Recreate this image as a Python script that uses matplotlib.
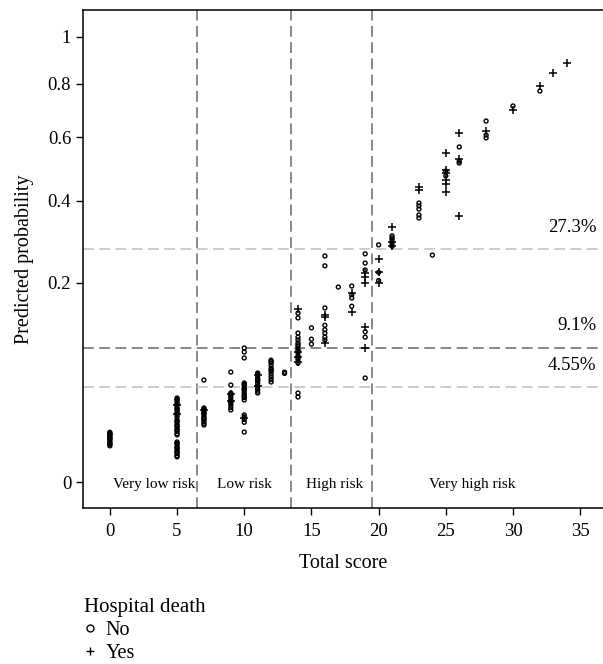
import numpy as np
import matplotlib
matplotlib.use('Agg')
import matplotlib.pyplot as plt
from matplotlib.lines import Line2D

plt.rcParams['font.family'] = ['Liberation Serif', 'DejaVu Serif']

# hospital death = No
no_score = [0]*13 + [5]*35 + [7]*14 + [9]*12 + [10]*19 + [11]*11 + [12]*11 + [13]*2 \
    + [14]*17 + [15]*3 + [16]*8 + [17] + [18]*4 + [19]*6 + [20]*3 + [21]*5 + [23]*5 \
    + [24] + [25]*2 + [26]*3 + [28]*3 + [30] + [32]
no_prob = [0.0125, 0.0120, 0.0116, 0.0112, 0.0108, 0.0100, 0.0096, 0.0093, 0.0086, 0.0079, 0.0075, 0.0072, 0.0066,
           0.0356, 0.0345, 0.0335, 0.0315, 0.0305, 0.0296, 0.0277, 0.0268, 0.0260, 0.0243, 0.0235, 0.0228, 0.0213,
           0.0194, 0.0187, 0.0180, 0.0166, 0.0160, 0.0153, 0.0141, 0.0135, 0.0129, 0.0118, 0.0112,
           0.0081, 0.0076, 0.0072, 0.0063, 0.0059, 0.0055, 0.0048, 0.0045, 0.0041, 0.0035, 0.0032,
           0.0277, 0.0270, 0.0262, 0.0248, 0.0241, 0.0234, 0.0221, 0.0208, 0.0202, 0.0196, 0.0185, 0.0174, 0.0164, 0.0525,
           0.061, 0.0475, 0.040, 0.0389, 0.0378, 0.0357, 0.0337, 0.0327, 0.0317, 0.0298, 0.0280, 0.0262,
           0.0907, 0.0853, 0.0777, 0.0495, 0.0483, 0.0471, 0.0447, 0.0435, 0.0424, 0.0402, 0.0381, 0.0370, 0.0360, 0.034,
           0.0227, 0.0212, 0.0198, 0.018, 0.0126,
           0.060, 0.0585, 0.0571, 0.0543, 0.0530, 0.0516, 0.0490, 0.0465, 0.0440, 0.0417, 0.040,
           0.075, 0.0733, 0.0716, 0.0683, 0.0650, 0.0634, 0.0618, 0.0588, 0.0558, 0.053, 0.0505,
           0.061, 0.0595,
           0.144, 0.136, 0.112, 0.106, 0.102, 0.0976, 0.095, 0.093, 0.089, 0.087, 0.0845, 0.080, 0.078, 0.0755, 0.0715, 0.040, 0.0365,
           0.12, 0.103, 0.096,
           0.258, 0.236, 0.153, 0.124, 0.117, 0.112, 0.106, 0.102,
           0.192,
           0.194, 0.177, 0.171, 0.156,
           0.263, 0.242, 0.227, 0.114, 0.106, 0.0546,
           0.284, 0.222, 0.205,
           0.306, 0.301, 0.296, 0.288, 0.281,
           0.393, 0.385, 0.376, 0.36, 0.352,
           0.260,
           0.473, 0.488,
           0.567, 0.514, 0.52,
           0.658, 0.608, 0.598,
           0.714,
           0.772]

# hospital death = Yes
yes_score = [5, 5, 7, 9, 9, 10, 11, 11, 14, 14, 14, 14, 16, 16, 16, 18, 18,
             19, 19, 19, 19, 19, 20, 20, 20, 21, 21, 21, 23, 23,
             25, 25, 25, 25, 25, 25, 26, 26, 26, 28, 30, 32, 33, 34]
yes_prob = [0.0233, 0.0300, 0.0262, 0.0395, 0.033, 0.0207, 0.058, 0.0465,
            0.151, 0.085, 0.079, 0.073, 0.141, 0.137, 0.0976, 0.180, 0.146,
            0.221, 0.212, 0.200, 0.121, 0.0907, 0.251, 0.222, 0.200,
            0.328, 0.291, 0.282, 0.44, 0.43,
            0.547, 0.492, 0.482, 0.461, 0.448, 0.425, 0.615, 0.527, 0.357,
            0.622, 0.699, 0.792, 0.845, 0.887]

cutoffs = [6.5, 13.5, 19.5]
risk_labels = ['Very low risk', 'Low risk', 'High risk', 'Very high risk']
risk_centers = [3.3, 10.0, 16.7, 27.0]
thresholds = [0.273, 0.091, 0.0455]
threshold_labels = ['27.3%', '9.1%', '4.55%']
threshold_colors = ['#c8c8c8', '#7f7f7f', '#c8c8c8']


def fwd(p):
    return np.sign(p) * np.sqrt(np.abs(p))


def inv(s):
    return np.sign(s) * s**2


fig = plt.figure(figsize=(6.03, 6.64), dpi=100)
ax = fig.add_axes([83/603, 1-508/664, 1-83/603, 498/664])
ax.set_yscale('function', functions=(fwd, inv))

for x in cutoffs:
    ax.axvline(x, color='#7f7f7f', lw=1.3, ls=(0, (6, 3)), zorder=1)
for y, lab, c in zip(thresholds, threshold_labels, threshold_colors):
    ax.axhline(y, color=c, lw=1.3, ls=(0, (6, 3)), zorder=1)
    ax.annotate(lab, (36.2, y), xytext=(0, 22), textcoords='offset pixels',
                ha='right', va='center', fontsize=13.5)

ax.scatter(no_score, no_prob, s=8, marker='o', facecolors='none',
           edgecolors='black', linewidths=1.0, zorder=3)
ax.scatter(yes_score, yes_prob, s=30, marker='+', color='black',
           linewidths=1.1, zorder=3)

for c, lab in zip(risk_centers, risk_labels):
    ax.text(c, 0.048, lab, transform=ax.get_xaxis_transform(),
            ha='center', va='center', fontsize=11)

ax.set_xlim(-2, 36.7)
ax.set_ylim(-0.00341, 1.125)
ax.set_xticks([0, 5, 10, 15, 20, 25, 30, 35])
ax.set_yticks([0, 0.2, 0.4, 0.6, 0.8, 1])
ax.set_yticklabels(['0', '0.2', '0.4', '0.6', '0.8', '1'])
ax.yaxis.set_minor_locator(matplotlib.ticker.NullLocator())
ax.tick_params(labelsize=13.5, length=5, width=1, direction='out')
ax.tick_params(axis='x', pad=6)
ax.spines['right'].set_visible(False)
for sp in ['top', 'left', 'bottom']:
    ax.spines[sp].set_linewidth(1.1)
ax.set_xlabel('Total score', fontsize=14.5, labelpad=10)
ax.set_ylabel('Predicted probability', fontsize=14.5, labelpad=10)

handles = [Line2D([], [], ls='none', marker='o', mfc='none', mec='black', ms=5, label='No'),
           Line2D([], [], ls='none', marker='+', color='black', ms=6, label='Yes')]
leg = fig.legend(handles=handles, title='Hospital death', loc='upper left',
                 bbox_to_anchor=(66/603, 1-580/664), frameon=False, fontsize=14.5,
                 title_fontsize=15, handlelength=0.6, handletextpad=0.45,
                 labelspacing=0.2, alignment='left')

plt.savefig('out.png', dpi=100)
